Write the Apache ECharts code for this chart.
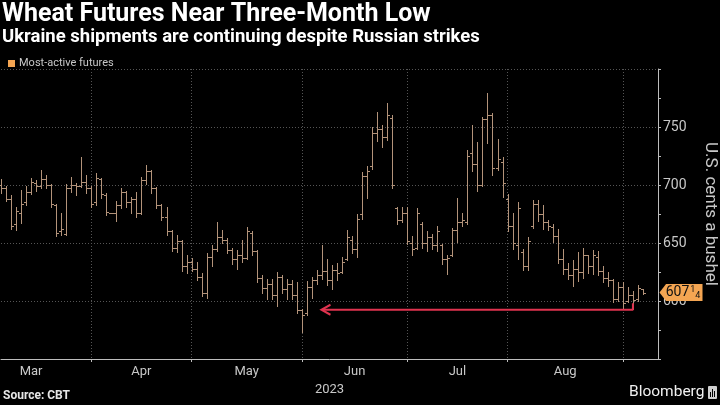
<!DOCTYPE html>
<html><head><meta charset="utf-8">
<script src="https://cdn.jsdelivr.net/npm/echarts@6/dist/echarts.min.js"></script>
<style>html,body{margin:0;padding:0;background:#000;}#c{width:720px;height:405px;}</style>
</head><body><div id="c"></div>
<script>
// ---- data ----
const dates = [
 '2023-03-08','2023-03-09','2023-03-10','2023-03-13','2023-03-14','2023-03-15','2023-03-16','2023-03-17','2023-03-20','2023-03-21','2023-03-22','2023-03-23','2023-03-24','2023-03-27','2023-03-28','2023-03-29','2023-03-30','2023-03-31',
 '2023-04-03','2023-04-04','2023-04-05','2023-04-06','2023-04-07','2023-04-10','2023-04-11','2023-04-12','2023-04-13','2023-04-14','2023-04-17','2023-04-18','2023-04-19','2023-04-20','2023-04-21','2023-04-24','2023-04-25','2023-04-26','2023-04-27','2023-04-28',
 '2023-05-01','2023-05-02','2023-05-03','2023-05-04','2023-05-05','2023-05-08','2023-05-09','2023-05-10','2023-05-11','2023-05-12','2023-05-15','2023-05-16','2023-05-17','2023-05-18','2023-05-19','2023-05-22','2023-05-23','2023-05-24','2023-05-25','2023-05-26','2023-05-30','2023-05-31',
 '2023-06-01','2023-06-02','2023-06-05','2023-06-06','2023-06-07','2023-06-08','2023-06-09','2023-06-12','2023-06-13','2023-06-14','2023-06-15','2023-06-16','2023-06-20','2023-06-21','2023-06-22','2023-06-23','2023-06-26','2023-06-27','2023-06-28','2023-06-29','2023-06-30',
 '2023-07-03','2023-07-05','2023-07-06','2023-07-07','2023-07-10','2023-07-11','2023-07-12','2023-07-13','2023-07-14','2023-07-17','2023-07-18','2023-07-19','2023-07-20','2023-07-21','2023-07-24','2023-07-25','2023-07-26','2023-07-27','2023-07-28','2023-07-31',
 '2023-08-01','2023-08-02','2023-08-03','2023-08-04','2023-08-07','2023-08-08','2023-08-09','2023-08-10','2023-08-11','2023-08-14','2023-08-15','2023-08-16','2023-08-17','2023-08-18','2023-08-21','2023-08-22','2023-08-23','2023-08-24','2023-08-25','2023-08-28','2023-08-29','2023-08-30','2023-08-31',
 '2023-09-01','2023-09-05','2023-09-06','2023-09-07','2023-09-08'
];
const opens = [
 700,697,688,666,676,685,694,702,699,705,700,683,660,658,697,700,699,703,
 697,685,705,691,676,676,683,694,685,688,676,704,712,697,683,672,660,646,652,630,
 634,628,621,607,638,645,655,653,644,636,640,637,659,643,620,611,615,605,621,610,615,605,
 592,590,612,618,622,626,618,627,625,636,653,645,675,708,716,745,748,741,758,680,670,
 676,650,646,666,650,655,648,648,636,640,661,668,668,728,718,700,757,760,715,720,
 688,665,648,642,630,665,684,675,668,664,656,636,628,622,628,625,640,630,638,626,620,618,602,
 612,600,605,602,610
];
const highs = [
 705,699,691,681,696,699,706,704,713,709,701,684,676,701,707,702,724,709,
 699,710,706,693,676,686,697,695,690,694,707,717,713,698,684,681,661,657,653,640,
 637,634,624,641,648,668,661,654,646,644,653,664,660,644,622,619,619,625,622,619,618,616,
 593,617,621,627,648,636,631,633,638,661,656,675,711,716,750,763,752,771,760,681,681,
 681,656,680,668,660,658,665,649,640,663,689,676,730,752,737,759,779,762,740,724,
 692,676,685,645,655,687,687,683,670,666,662,645,633,635,642,646,640,644,643,630,625,619,616,
 616,612,609,614,610
];
const lows = [
 693,686,662,661,667,683,692,695,697,697,681,656,657,657,694,691,698,693,
 681,683,689,674,676,669,680,681,676,672,675,701,693,680,670,657,643,642,626,624,
 626,618,604,603,630,643,650,641,632,628,634,636,640,616,607,602,602,596,607,602,602,590,
 573,588,603,615,619,614,610,618,624,635,641,638,671,689,714,738,733,739,697,666,668,
 649,640,645,646,643,645,643,632,623,639,651,665,666,712,695,699,736,709,713,690,
 660,645,636,627,627,663,669,662,661,651,633,623,619,613,617,620,624,623,622,616,613,599,600,
 593,599,593,600,606
];
const closes = [
 697,688,665,678,684,694,703,699,705,700,684,659,662,697,700,699,703,697,
 684,706,692,677,676,683,694,685,688,676,704,712,697,683,672,660,646,652,630,634,
 628,621,607,638,645,655,653,644,636,640,637,660,643,620,611,615,605,621,610,615,605,592,
 588,612,618,622,626,618,627,624,634,655,645,671,708,712,745,748,741,760,700,670,676,
 652,645,676,650,655,648,660,636,637,661,668,670,725,718,700,757,760,715,722,702,
 665,650,680,630,652,684,675,668,665,656,636,628,622,628,625,640,630,640,626,620,618,602,612,
 598,605,601,611,607.25
];
const monthLabels = {'2023-03-16':'Mar','2023-04-17':'Apr','2023-05-16':'May','2023-06-15':'Jun','2023-07-18':'Jul','2023-08-16':'Aug'};
const yearLabel = '2023';
const lastPriceText = ['607','1','4'];
const arrowLevel = 592.5, arrowTop = 598;
const arrowFrom = '2023-06-07', arrowTo = '2023-09-06';
const padSlots = 3;

// ---- build ----
const FONT = "'Liberation Sans Narrow','Roboto',sans-serif";
const BAR = '#b3937a';
const ORANGE = '#f4a552';
const cats = dates.concat(Array.from({length: padSlots}, (_, k) => 'pad' + k));
const ohlc = dates.map((d, i) => [i, opens[i], highs[i], lows[i], closes[i]]);
const monthStart = new Set();
dates.forEach((d, i) => { if (i > 0 && d.slice(5, 7) !== dates[i - 1].slice(5, 7)) monthStart.add(i); });
const iFrom = dates.indexOf(arrowFrom), iTo = dates.indexOf(arrowTo);
const lastIdx = cats.length - 1;

const chart = echarts.init(document.getElementById('c'), null, {renderer: 'canvas'});
chart.setOption({
  backgroundColor: '#000',
  animation: false,
  textStyle: {fontFamily: FONT},
  grid: {left: 1, right: 62, top: 69, bottom: 46, outerBoundsMode: 'none', containLabel: false},
  legend: {
    left: 3, top: 53, itemWidth: 7, itemHeight: 7, itemGap: 4,
    data: [{name: 'Most-active futures', icon: 'rect', itemStyle: {color: ORANGE}}],
    textStyle: {color: '#c8c8c8', fontSize: 11, fontFamily: FONT, padding: [0, 0, 0, -1]},
    selectedMode: false
  },
  xAxis: {
    type: 'category', data: cats, boundaryGap: false,
    axisLine: {lineStyle: {color: '#bdbdbd', width: 1}},
    axisTick: {show: true, length: 3, interval: (i) => monthStart.has(i), lineStyle: {color: '#bdbdbd'}},
    axisLabel: {
      interval: (i, v) => monthLabels[v] !== undefined,
      formatter: (v) => {
        const m = monthLabels[v]; if (!m) return '';
        if (m === 'Jun' || m === 'Aug') return '{s|' + m + '}';
        return m;
      },
      rich: {s: {color: '#c8c8c8', fontSize: 13, fontFamily: FONT, padding: [0, 0, 0, 5]}},
      color: '#c8c8c8', fontSize: 13, margin: 6, fontFamily: FONT
    },
    splitLine: {show: true, interval: (i) => monthStart.has(i), lineStyle: {color: '#555', type: [1, 2]}},
    name: yearLabel, nameLocation: 'middle', nameGap: 24,
    nameTextStyle: {color: '#c8c8c8', fontSize: 13, fontFamily: FONT}
  },
  yAxis: {
    type: 'value', position: 'right', min: 550, max: 800, interval: 50,
    axisLine: {show: true, lineStyle: {color: '#bdbdbd'}},
    axisTick: {show: true, length: 3, lineStyle: {color: '#bdbdbd'}},
    minorTick: {show: true, splitNumber: 2, length: 3, lineStyle: {color: '#bdbdbd'}},
    axisLabel: {color: '#c8c8c8', fontSize: 14, margin: 5, fontFamily: FONT,
      formatter: (v) => (v === 550 || v === 800) ? '' : String(v)},
    splitLine: {show: true, lineStyle: {color: '#555', type: [1, 2]}},
    name: 'U.S. cents a bushel', nameLocation: 'middle', nameRotate: -90, nameGap: 44,
    nameTextStyle: {color: '#c8c8c8', fontSize: 17, fontFamily: FONT}
  },
  series: [
    {
      name: 'Most-active futures', type: 'custom', data: ohlc,
      itemStyle: {color: ORANGE},
      encode: {x: 0, y: [1, 2, 3, 4]},
      renderItem: (params, api) => {
        const i = api.value(0);
        const pO = api.coord([i, api.value(1)]);
        const pH = api.coord([i, api.value(2)]);
        const pL = api.coord([i, api.value(3)]);
        const pC = api.coord([i, api.value(4)]);
        const x = Math.round(pO[0]) + 0.5;
        const st = {stroke: BAR, lineWidth: 1};
        return {type: 'group', children: [
          {type: 'line', shape: {x1: x, y1: Math.round(pH[1]), x2: x, y2: Math.round(pL[1]) + 1}, style: st},
          {type: 'line', shape: {x1: x - 2.5, y1: Math.round(pO[1]) + 0.5, x2: x, y2: Math.round(pO[1]) + 0.5}, style: st},
          {type: 'line', shape: {x1: x, y1: Math.round(pC[1]) + 0.5, x2: x + 2.5, y2: Math.round(pC[1]) + 0.5}, style: st}
        ]};
      },
      z: 3
    },
    {
      name: 'arrow', type: 'line', data: [[iFrom, arrowLevel], [iTo, arrowLevel], [iTo, arrowTop]],
      symbol: 'none', lineStyle: {color: '#e0334f', width: 2}, z: 4, silent: true
    },
    {
      name: 'arrowHead', type: 'scatter', data: [[iFrom, arrowLevel]],
      symbol: 'path://M9,0 L0,5 L9,10', symbolSize: [9, 10], symbolOffset: [4, 0],
      itemStyle: {color: 'none', borderColor: '#e0334f', borderWidth: 2, opacity: 1}, z: 5, silent: true, clip: false
    },
    {
      name: 'lastTag', type: 'scatter', data: [[lastIdx, closes[closes.length - 1]]],
      symbol: 'path://M0,8 L7,0 L46,0 L46,16 L7,16 Z', symbolSize: [43, 17], symbolOffset: [23, 0],
      itemStyle: {color: ORANGE, opacity: 1}, z: 10, silent: true, clip: false,
      label: {show: true, position: 'inside', offset: [2, 0],
        formatter: () => '{n|' + lastPriceText[0] + '}{t|' + lastPriceText[1] + '}{b|' + lastPriceText[2] + '}',
        rich: {
          n: {color: '#111', fontSize: 14, fontFamily: FONT, lineHeight: 16, verticalAlign: 'middle'},
          t: {color: '#111', fontSize: 9, fontFamily: FONT, lineHeight: 16, verticalAlign: 'top', padding: [1, 0, 0, 1]},
          b: {color: '#111', fontSize: 9, fontFamily: FONT, lineHeight: 16, verticalAlign: 'bottom', padding: [0, 0, 0, 0]}
        }
      }
    }
  ],
  graphic: [
    {type: 'text', left: 2, top: 2, style: {text: 'Wheat Futures Near Three-Month Low', fill: '#fff', font: 'bold 25px ' + FONT}},
    {type: 'text', left: 2, top: 28, style: {text: 'Ukraine shipments are continuing despite Russian strikes', fill: '#fff', font: 'bold 18.5px ' + FONT}},
    {type: 'text', left: 3, top: 390, style: {text: 'Source: CBT', fill: '#e6e6e6', font: 'bold 12px ' + FONT}},
    {type: 'text', left: 629, top: 384, style: {text: 'Bloomberg', fill: '#f0f0f0', font: '15.5px ' + FONT}},
    {type: 'rect', left: 708, top: 386, shape: {width: 9, height: 13, r: 1}, style: {fill: '#cfcfcf'}},
    {type: 'rect', left: 710, top: 392, shape: {width: 1, height: 5}, style: {fill: '#000'}},
    {type: 'rect', left: 712, top: 389, shape: {width: 1, height: 8}, style: {fill: '#000'}},
    {type: 'rect', left: 714, top: 391, shape: {width: 1, height: 6}, style: {fill: '#000'}}
  ]
});
</script></body></html>
